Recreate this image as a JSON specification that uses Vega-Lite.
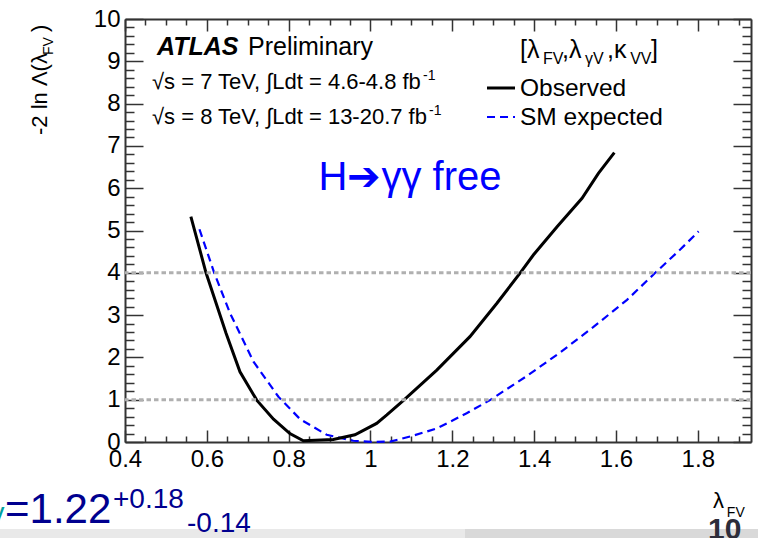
{
  "$schema": "https://vega.github.io/schema/vega-lite/v6.json",
  "width": 626,
  "height": 423,
  "autosize": {"type": "none"},
  "padding": {"left": 125, "top": 19, "right": 7, "bottom": 96},
  "background": "white",
  "config": {
    "view": {"stroke": null},
    "axis": {
      "grid": false,
      "domainColor": "#333333",
      "domainWidth": 2,
      "tickColor": "#333333",
      "tickWidth": 1.5,
      "labelFont": "Liberation Sans",
      "labelFontSize": 24,
      "labelColor": "black",
      "labelFlush": false,
      "labelOverlap": false,
      "labelBound": false
    },
    "text": {"font": "Liberation Sans"}
  },
  "datasets": {
    "observed": [
      {"lambda_FV": 0.561, "q": 5.33},
      {"lambda_FV": 0.598, "q": 4.0},
      {"lambda_FV": 0.647, "q": 2.57},
      {"lambda_FV": 0.681, "q": 1.66},
      {"lambda_FV": 0.722, "q": 0.99},
      {"lambda_FV": 0.763, "q": 0.54},
      {"lambda_FV": 0.803, "q": 0.2},
      {"lambda_FV": 0.836, "q": 0.03},
      {"lambda_FV": 0.909, "q": 0.06},
      {"lambda_FV": 0.962, "q": 0.17},
      {"lambda_FV": 1.015, "q": 0.44},
      {"lambda_FV": 1.04, "q": 0.64},
      {"lambda_FV": 1.08, "q": 0.98},
      {"lambda_FV": 1.162, "q": 1.7},
      {"lambda_FV": 1.243, "q": 2.49},
      {"lambda_FV": 1.309, "q": 3.28},
      {"lambda_FV": 1.366, "q": 4.0},
      {"lambda_FV": 1.398, "q": 4.42},
      {"lambda_FV": 1.456, "q": 5.09},
      {"lambda_FV": 1.517, "q": 5.76},
      {"lambda_FV": 1.557, "q": 6.35},
      {"lambda_FV": 1.596, "q": 6.84}
    ],
    "expected": [
      {"lambda_FV": 0.582, "q": 5.03},
      {"lambda_FV": 0.618, "q": 4.0},
      {"lambda_FV": 0.657, "q": 3.04},
      {"lambda_FV": 0.714, "q": 1.9},
      {"lambda_FV": 0.775, "q": 1.07},
      {"lambda_FV": 0.828, "q": 0.54},
      {"lambda_FV": 0.893, "q": 0.17},
      {"lambda_FV": 0.958, "q": 0.03},
      {"lambda_FV": 1.004, "q": 0.0},
      {"lambda_FV": 1.048, "q": 0.01},
      {"lambda_FV": 1.097, "q": 0.13},
      {"lambda_FV": 1.162, "q": 0.32},
      {"lambda_FV": 1.235, "q": 0.68},
      {"lambda_FV": 1.292, "q": 0.99},
      {"lambda_FV": 1.382, "q": 1.56},
      {"lambda_FV": 1.464, "q": 2.12},
      {"lambda_FV": 1.545, "q": 2.72},
      {"lambda_FV": 1.627, "q": 3.36},
      {"lambda_FV": 1.696, "q": 4.0},
      {"lambda_FV": 1.757, "q": 4.55},
      {"lambda_FV": 1.802, "q": 4.98}
    ],
    "levels": [{"q": 1}, {"q": 4}],
    "one": [{}]
  },
  "layer": [
    {
      "data": {"name": "one"},
      "mark": {"type": "rect", "color": "#e9e9e9"},
      "encoding": {
        "x": {"datum": 0.0945, "type": "quantitative", "scale": {"domain": [0.4, 1.93], "nice": false, "zero": false}, "axis": null},
        "x2": {"datum": 1.231},
        "y": {"datum": -2.057, "type": "quantitative", "scale": {"domain": [0, 10], "nice": false, "zero": false}, "axis": null},
        "y2": {"datum": -2.33}
      }
    },
    {
      "data": {"name": "one"},
      "mark": {"type": "rect", "color": "#d9d9d9"},
      "encoding": {
        "x": {"datum": 1.231, "type": "quantitative", "scale": {"domain": [0.4, 1.93], "nice": false, "zero": false}, "axis": null},
        "x2": {"datum": 1.95},
        "y": {"datum": -2.057, "type": "quantitative", "scale": {"domain": [0, 10], "nice": false, "zero": false}, "axis": null},
        "y2": {"datum": -2.33}
      }
    },
    {
      "data": {"name": "expected"},
      "mark": {"type": "line", "color": "#0000ff", "strokeWidth": 2.2, "strokeDash": [8, 5], "interpolate": "linear"},
      "encoding": {
        "x": {"field": "lambda_FV", "type": "quantitative", "scale": {"domain": [0.4, 1.93], "nice": false, "zero": false},
          "axis": {"orient": "bottom", "title": null, "values": [0.45, 0.5, 0.55, 0.65, 0.7, 0.75, 0.85, 0.9, 0.95, 1.05, 1.1, 1.15, 1.25, 1.3, 1.35, 1.45, 1.5, 1.55, 1.65, 1.7, 1.75, 1.85, 1.9], "tickSize": -6, "labels": false, "domain": false}},
        "y": {"field": "q", "type": "quantitative", "scale": {"domain": [0, 10], "nice": false, "zero": false},
          "axis": {"orient": "left", "title": null, "values": [0.2, 0.4, 0.6, 0.8, 1.2, 1.4, 1.6, 1.8, 2.2, 2.4, 2.6, 2.8, 3.2, 3.4, 3.6, 3.8, 4.2, 4.4, 4.6, 4.8, 5.2, 5.4, 5.6, 5.8, 6.2, 6.4, 6.6, 6.8, 7.2, 7.4, 7.6, 7.8, 8.2, 8.4, 8.6, 8.8, 9.2, 9.4, 9.6, 9.8], "tickSize": -9, "labels": false, "domain": false}}
      }
    },
    {
      "data": {"name": "observed"},
      "mark": {"type": "line", "color": "black", "strokeWidth": 3, "interpolate": "linear"},
      "encoding": {
        "x": {"field": "lambda_FV", "type": "quantitative", "scale": {"domain": [0.4, 1.93], "nice": false, "zero": false},
          "axis": {"orient": "bottom", "title": null, "values": [0.4, 0.6, 0.8, 1, 1.2, 1.4, 1.6, 1.8], "format": "~g", "tickSize": -12, "labelPadding": 17, "domain": true}},
        "y": {"field": "q", "type": "quantitative", "scale": {"domain": [0, 10], "nice": false, "zero": false},
          "axis": {"orient": "left", "title": null, "values": [0, 1, 2, 3, 4, 5, 6, 7, 8, 9, 10], "tickSize": -18, "labelPadding": 23, "domain": true}}
      }
    },
    {
      "data": {"name": "levels"},
      "mark": {"type": "rule", "color": "#b0b0b0", "strokeWidth": 3, "strokeDash": [4.5, 3]},
      "encoding": {
        "y": {"field": "q", "type": "quantitative", "scale": {"domain": [0, 10], "nice": false, "zero": false},
          "axis": {"orient": "right", "title": null, "values": [0, 1, 2, 3, 4, 5, 6, 7, 8, 9, 10], "tickSize": -18, "labels": false, "domain": true}}
      }
    },
    {
      "data": {"name": "one"},
      "mark": {"type": "rule", "color": "black", "strokeWidth": 3},
      "encoding": {
        "x": {"datum": 1.2848, "type": "quantitative", "scale": {"domain": [0.4, 1.93], "nice": false, "zero": false},
          "axis": {"orient": "top", "title": null, "values": [0.4, 0.6, 0.8, 1, 1.2, 1.4, 1.6, 1.8], "tickSize": -12, "labels": false, "domain": true}},
        "x2": {"datum": 1.3532},
        "y": {"datum": 8.369, "type": "quantitative", "scale": {"domain": [0, 10], "nice": false, "zero": false},
          "axis": {"orient": "right", "title": null, "values": [0.2, 0.4, 0.6, 0.8, 1.2, 1.4, 1.6, 1.8, 2.2, 2.4, 2.6, 2.8, 3.2, 3.4, 3.6, 3.8, 4.2, 4.4, 4.6, 4.8, 5.2, 5.4, 5.6, 5.8, 6.2, 6.4, 6.6, 6.8, 7.2, 7.4, 7.6, 7.8, 8.2, 8.4, 8.6, 8.8, 9.2, 9.4, 9.6, 9.8], "tickSize": -9, "labels": false, "domain": false}}
      }
    },
    {
      "data": {"name": "one"},
      "mark": {"type": "rule", "color": "#0000ff", "strokeWidth": 2.2, "strokeDash": [8, 5]},
      "encoding": {
        "x": {"datum": 1.2848, "type": "quantitative", "scale": {"domain": [0.4, 1.93], "nice": false, "zero": false},
          "axis": {"orient": "top", "title": null, "values": [0.45, 0.5, 0.55, 0.65, 0.7, 0.75, 0.85, 0.9, 0.95, 1.05, 1.1, 1.15, 1.25, 1.3, 1.35, 1.45, 1.5, 1.55, 1.65, 1.7, 1.75, 1.85, 1.9], "tickSize": -6, "labels": false, "domain": false}},
        "x2": {"datum": 1.3532},
        "y": {"datum": 7.683, "type": "quantitative", "scale": {"domain": [0, 10], "nice": false, "zero": false}, "axis": null}
      }
    },
    {
      "data": {"name": "one"},
      "mark": {"type": "text", "text": "ATLAS", "fontSize": 25, "fontWeight": "bold", "fontStyle": "italic", "align": "left", "baseline": "alphabetic", "color": "black"},
      "encoding": {
        "x": {"datum": 0.4782, "type": "quantitative", "scale": {"domain": [0.4, 1.93], "nice": false, "zero": false}, "axis": null},
        "y": {"datum": 9.149, "type": "quantitative", "scale": {"domain": [0, 10], "nice": false, "zero": false}, "axis": null}
      }
    },
    {
      "data": {"name": "one"},
      "mark": {"type": "text", "text": "Preliminary", "fontSize": 25, "align": "left", "baseline": "alphabetic", "color": "black"},
      "encoding": {
        "x": {"datum": 0.7006, "type": "quantitative", "scale": {"domain": [0.4, 1.93], "nice": false, "zero": false}, "axis": null},
        "y": {"datum": 9.149, "type": "quantitative", "scale": {"domain": [0, 10], "nice": false, "zero": false}, "axis": null}
      }
    },
    {
      "data": {"name": "one"},
      "mark": {"type": "text", "text": "√s = 7 TeV, ∫Ldt = 4.6-4.8 fb", "fontSize": 22, "align": "left", "baseline": "alphabetic", "color": "black"},
      "encoding": {
        "x": {"datum": 0.466, "type": "quantitative", "scale": {"domain": [0.4, 1.93], "nice": false, "zero": false}, "axis": null},
        "y": {"datum": 8.345, "type": "quantitative", "scale": {"domain": [0, 10], "nice": false, "zero": false}, "axis": null}
      }
    },
    {
      "data": {"name": "one"},
      "mark": {"type": "text", "text": "-1", "fontSize": 14, "align": "left", "baseline": "alphabetic", "color": "black"},
      "encoding": {
        "x": {"datum": 1.1284, "type": "quantitative", "scale": {"domain": [0.4, 1.93], "nice": false, "zero": false}, "axis": null},
        "y": {"datum": 8.558, "type": "quantitative", "scale": {"domain": [0, 10], "nice": false, "zero": false}, "axis": null}
      }
    },
    {
      "data": {"name": "one"},
      "mark": {"type": "text", "text": "√s = 8 TeV, ∫Ldt = 13-20.7 fb", "fontSize": 22, "align": "left", "baseline": "alphabetic", "color": "black"},
      "encoding": {
        "x": {"datum": 0.466, "type": "quantitative", "scale": {"domain": [0.4, 1.93], "nice": false, "zero": false}, "axis": null},
        "y": {"datum": 7.506, "type": "quantitative", "scale": {"domain": [0, 10], "nice": false, "zero": false}, "axis": null}
      }
    },
    {
      "data": {"name": "one"},
      "mark": {"type": "text", "text": "-1", "fontSize": 14, "align": "left", "baseline": "alphabetic", "color": "black"},
      "encoding": {
        "x": {"datum": 1.143, "type": "quantitative", "scale": {"domain": [0.4, 1.93], "nice": false, "zero": false}, "axis": null},
        "y": {"datum": 7.719, "type": "quantitative", "scale": {"domain": [0, 10], "nice": false, "zero": false}, "axis": null}
      }
    },
    {
      "data": {"name": "one"},
      "mark": {"type": "text", "text": "[λ", "fontSize": 25, "align": "left", "baseline": "alphabetic", "color": "black"},
      "encoding": {
        "x": {"datum": 1.3654, "type": "quantitative", "scale": {"domain": [0.4, 1.93], "nice": false, "zero": false}, "axis": null},
        "y": {"datum": 9.078, "type": "quantitative", "scale": {"domain": [0, 10], "nice": false, "zero": false}, "axis": null}
      }
    },
    {
      "data": {"name": "one"},
      "mark": {"type": "text", "text": "FV", "fontSize": 16, "align": "left", "baseline": "alphabetic", "color": "black"},
      "encoding": {
        "x": {"datum": 1.4216, "type": "quantitative", "scale": {"domain": [0.4, 1.93], "nice": false, "zero": false}, "axis": null},
        "y": {"datum": 8.936, "type": "quantitative", "scale": {"domain": [0, 10], "nice": false, "zero": false}, "axis": null}
      }
    },
    {
      "data": {"name": "one"},
      "mark": {"type": "text", "text": ",λ", "fontSize": 25, "align": "left", "baseline": "alphabetic", "color": "black"},
      "encoding": {
        "x": {"datum": 1.468, "type": "quantitative", "scale": {"domain": [0.4, 1.93], "nice": false, "zero": false}, "axis": null},
        "y": {"datum": 9.078, "type": "quantitative", "scale": {"domain": [0, 10], "nice": false, "zero": false}, "axis": null}
      }
    },
    {
      "data": {"name": "one"},
      "mark": {"type": "text", "text": "γV", "fontSize": 16, "align": "left", "baseline": "alphabetic", "color": "black"},
      "encoding": {
        "x": {"datum": 1.5243, "type": "quantitative", "scale": {"domain": [0.4, 1.93], "nice": false, "zero": false}, "axis": null},
        "y": {"datum": 8.936, "type": "quantitative", "scale": {"domain": [0, 10], "nice": false, "zero": false}, "axis": null}
      }
    },
    {
      "data": {"name": "one"},
      "mark": {"type": "text", "text": ",κ", "fontSize": 25, "align": "left", "baseline": "alphabetic", "color": "black"},
      "encoding": {
        "x": {"datum": 1.578, "type": "quantitative", "scale": {"domain": [0.4, 1.93], "nice": false, "zero": false}, "axis": null},
        "y": {"datum": 9.078, "type": "quantitative", "scale": {"domain": [0, 10], "nice": false, "zero": false}, "axis": null}
      }
    },
    {
      "data": {"name": "one"},
      "mark": {"type": "text", "text": "VV", "fontSize": 16, "align": "left", "baseline": "alphabetic", "color": "black"},
      "encoding": {
        "x": {"datum": 1.6347, "type": "quantitative", "scale": {"domain": [0.4, 1.93], "nice": false, "zero": false}, "axis": null},
        "y": {"datum": 8.936, "type": "quantitative", "scale": {"domain": [0, 10], "nice": false, "zero": false}, "axis": null}
      }
    },
    {
      "data": {"name": "one"},
      "mark": {"type": "text", "text": "]", "fontSize": 25, "align": "left", "baseline": "alphabetic", "color": "black"},
      "encoding": {
        "x": {"datum": 1.6856, "type": "quantitative", "scale": {"domain": [0.4, 1.93], "nice": false, "zero": false}, "axis": null},
        "y": {"datum": 9.078, "type": "quantitative", "scale": {"domain": [0, 10], "nice": false, "zero": false}, "axis": null}
      }
    },
    {
      "data": {"name": "one"},
      "mark": {"type": "text", "text": "Observed", "fontSize": 24.5, "align": "left", "baseline": "alphabetic", "color": "black"},
      "encoding": {
        "x": {"datum": 1.3654, "type": "quantitative", "scale": {"domain": [0.4, 1.93], "nice": false, "zero": false}, "axis": null},
        "y": {"datum": 8.18, "type": "quantitative", "scale": {"domain": [0, 10], "nice": false, "zero": false}, "axis": null}
      }
    },
    {
      "data": {"name": "one"},
      "mark": {"type": "text", "text": "SM expected", "fontSize": 24.5, "align": "left", "baseline": "alphabetic", "color": "black"},
      "encoding": {
        "x": {"datum": 1.3654, "type": "quantitative", "scale": {"domain": [0.4, 1.93], "nice": false, "zero": false}, "axis": null},
        "y": {"datum": 7.494, "type": "quantitative", "scale": {"domain": [0, 10], "nice": false, "zero": false}, "axis": null}
      }
    },
    {
      "data": {"name": "one"},
      "mark": {"type": "text", "text": "H➔γγ free", "fontSize": 40, "align": "left", "baseline": "alphabetic", "color": "#0000ff"},
      "encoding": {
        "x": {"datum": 0.873, "type": "quantitative", "scale": {"domain": [0.4, 1.93], "nice": false, "zero": false}, "axis": null},
        "y": {"datum": 5.957, "type": "quantitative", "scale": {"domain": [0, 10], "nice": false, "zero": false}, "axis": null}
      }
    },
    {
      "data": {"name": "one"},
      "mark": {"type": "text", "text": "-2 ln Λ(λ", "fontSize": 22, "angle": 270, "align": "left", "baseline": "alphabetic", "color": "black"},
      "encoding": {
        "x": {"datum": 0.2094, "type": "quantitative", "scale": {"domain": [0.4, 1.93], "nice": false, "zero": false}, "axis": null},
        "y": {"datum": 7.258, "type": "quantitative", "scale": {"domain": [0, 10], "nice": false, "zero": false}, "axis": null}
      }
    },
    {
      "data": {"name": "one"},
      "mark": {"type": "text", "text": "FV", "fontSize": 14, "angle": 270, "align": "left", "baseline": "alphabetic", "color": "black"},
      "encoding": {
        "x": {"datum": 0.224, "type": "quantitative", "scale": {"domain": [0.4, 1.93], "nice": false, "zero": false}, "axis": null},
        "y": {"datum": 9.149, "type": "quantitative", "scale": {"domain": [0, 10], "nice": false, "zero": false}, "axis": null}
      }
    },
    {
      "data": {"name": "one"},
      "mark": {"type": "text", "text": ")", "fontSize": 22, "angle": 270, "align": "left", "baseline": "alphabetic", "color": "black"},
      "encoding": {
        "x": {"datum": 0.2094, "type": "quantitative", "scale": {"domain": [0.4, 1.93], "nice": false, "zero": false}, "axis": null},
        "y": {"datum": 9.693, "type": "quantitative", "scale": {"domain": [0, 10], "nice": false, "zero": false}, "axis": null}
      }
    },
    {
      "data": {"name": "one"},
      "mark": {"type": "text", "text": "λ", "fontSize": 22, "align": "left", "baseline": "alphabetic", "color": "black"},
      "encoding": {
        "x": {"datum": 1.837, "type": "quantitative", "scale": {"domain": [0.4, 1.93], "nice": false, "zero": false}, "axis": null},
        "y": {"datum": -1.56, "type": "quantitative", "scale": {"domain": [0, 10], "nice": false, "zero": false}, "axis": null}
      }
    },
    {
      "data": {"name": "one"},
      "mark": {"type": "text", "text": "FV", "fontSize": 14, "align": "left", "baseline": "alphabetic", "color": "black"},
      "encoding": {
        "x": {"datum": 1.871, "type": "quantitative", "scale": {"domain": [0.4, 1.93], "nice": false, "zero": false}, "axis": null},
        "y": {"datum": -1.773, "type": "quantitative", "scale": {"domain": [0, 10], "nice": false, "zero": false}, "axis": null}
      }
    },
    {
      "data": {"name": "one"},
      "mark": {"type": "text", "text": "10", "fontSize": 30, "fontWeight": "bold", "align": "left", "baseline": "alphabetic", "color": "#2d2d3a"},
      "encoding": {
        "x": {"datum": 1.825, "type": "quantitative", "scale": {"domain": [0.4, 1.93], "nice": false, "zero": false}, "axis": null},
        "y": {"datum": -2.293, "type": "quantitative", "scale": {"domain": [0, 10], "nice": false, "zero": false}, "axis": null}
      }
    },
    {
      "data": {"name": "one"},
      "mark": {"type": "text", "text": "γ", "fontSize": 28, "align": "right", "baseline": "alphabetic", "color": "#00a0a0"},
      "encoding": {
        "x": {"datum": 0.1055, "type": "quantitative", "scale": {"domain": [0.4, 1.93], "nice": false, "zero": false}, "axis": null},
        "y": {"datum": -1.891, "type": "quantitative", "scale": {"domain": [0, 10], "nice": false, "zero": false}, "axis": null}
      }
    },
    {
      "data": {"name": "one"},
      "mark": {"type": "text", "text": "=1.22", "fontSize": 42, "align": "left", "baseline": "alphabetic", "color": "#00008f"},
      "encoding": {
        "x": {"datum": 0.1067, "type": "quantitative", "scale": {"domain": [0.4, 1.93], "nice": false, "zero": false}, "axis": null},
        "y": {"datum": -1.915, "type": "quantitative", "scale": {"domain": [0, 10], "nice": false, "zero": false}, "axis": null}
      }
    },
    {
      "data": {"name": "one"},
      "mark": {"type": "text", "text": "+0.18", "fontSize": 28, "align": "left", "baseline": "alphabetic", "color": "#00008f"},
      "encoding": {
        "x": {"datum": 0.3707, "type": "quantitative", "scale": {"domain": [0.4, 1.93], "nice": false, "zero": false}, "axis": null},
        "y": {"datum": -1.56, "type": "quantitative", "scale": {"domain": [0, 10], "nice": false, "zero": false}, "axis": null}
      }
    },
    {
      "data": {"name": "one"},
      "mark": {"type": "text", "text": "-0.14", "fontSize": 28, "align": "left", "baseline": "alphabetic", "color": "#00008f"},
      "encoding": {
        "x": {"datum": 0.5515, "type": "quantitative", "scale": {"domain": [0.4, 1.93], "nice": false, "zero": false}, "axis": null},
        "y": {"datum": -2.128, "type": "quantitative", "scale": {"domain": [0, 10], "nice": false, "zero": false}, "axis": null}
      }
    }
  ],
  "resolve": {"axis": {"x": "independent", "y": "independent"}}
}
